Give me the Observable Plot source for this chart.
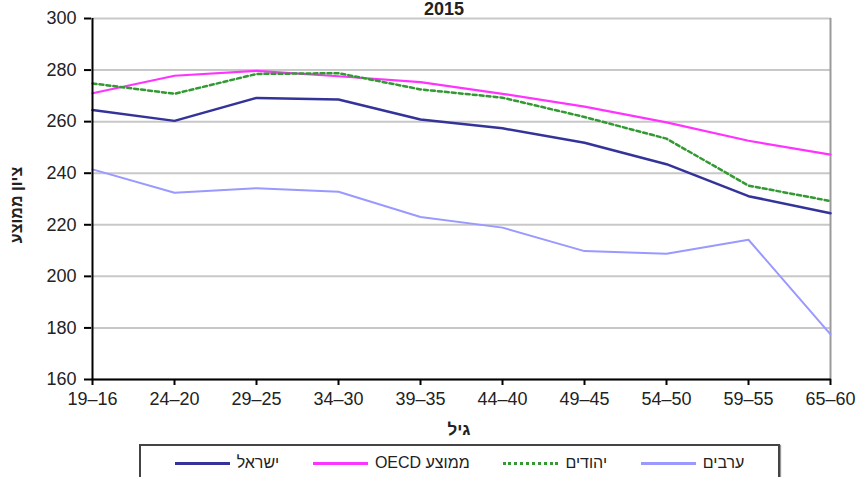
<!DOCTYPE html>
<html>
<head>
<meta charset="utf-8">
<script src="https://cdn.jsdelivr.net/npm/d3@7"></script>
<script src="https://cdn.jsdelivr.net/npm/@observablehq/plot@0.6"></script>
<style>
  html, body { margin: 0; padding: 0; background: #fff; }
  #wrap { position: relative; width: 867px; height: 477px; overflow: hidden; font-family: "Liberation Sans", Arial, sans-serif; color: #222; }
  #chart { position: absolute; left: 0; top: 0; }
  .title { position: absolute; top: 0px; left: 444px; transform: translateX(-50%); font-weight: bold; font-size: 18px; line-height: 18px; }
  .ylab { position: absolute; left: 17px; top: 205px; transform: translate(-50%, -50%) rotate(-90deg); font-weight: bold; font-size: 16px; white-space: nowrap; direction: rtl; }
  .xlab { position: absolute; left: 459px; top: 430px; transform: translate(-50%, -50%); font-weight: bold; font-size: 17px; direction: rtl; }
  .legend { position: absolute; left: 139px; top: 444px; width: 641px; height: 50px; border: 2px solid #444; box-shadow: 1px 1px 1px #999; display: flex; justify-content: space-evenly; align-items: flex-start; padding-top: 8px; box-sizing: border-box; }
  .item { display: flex; align-items: center; font-size: 16px; }
  .swatch { width: 55px; height: 0; margin-right: 7px; }
  .item span { direction: rtl; white-space: nowrap; }
</style>
</head>
<body>
<div id="wrap">
  <div id="chart"></div>
  <div class="title">2015</div>
  <div class="ylab">ציון ממוצע</div>
  <div class="xlab">גיל</div>
  <div class="legend" id="legend"></div>
</div>
<script>
// Data
const ages = ["19–16", "24–20", "29–25", "34–30", "39–35", "44–40", "49–45", "54–50", "59–55", "65–60"];
const israel = [264.5, 260.3, 269.2, 268.6, 260.8, 257.4, 251.8, 243.5, 231.1, 224.5];
const oecd   = [271.0, 277.8, 279.7, 277.6, 275.3, 270.8, 265.8, 259.7, 252.6, 247.2];
const jews   = [274.8, 270.8, 278.5, 278.8, 272.5, 269.3, 261.8, 253.4, 235.2, 229.2];
const arabs  = [241.5, 232.4, 234.2, 232.8, 223.0, 218.9, 209.8, 208.8, 214.2, 177.5];
const yTicks = [160, 180, 200, 220, 240, 260, 280, 300];
const seriesNames = ["ישראל", "ממוצע OECD", "יהודים", "ערבים"];

const colors = {"ישראל": "#333399", "ממוצע OECD": "#ff33ff", "יהודים": "#339933", "ערבים": "#9999ff"};
const rows = (vals) => ages.map((a, i) => ({age: a, v: vals[i]}));

const chart = Plot.plot({
  width: 867,
  height: 445,
  marginLeft: 91,
  marginRight: 36,
  marginTop: 18,
  marginBottom: 66,
  x: {type: "point", domain: ages, padding: 0},
  y: {domain: [160, 300]},
  style: {fontFamily: "'Liberation Sans', Arial, sans-serif", fontSize: "18px", color: "#222", background: "transparent"},
  marks: [
    Plot.gridY(yTicks, {stroke: "#c8c8c8", strokeWidth: 2, strokeOpacity: 1}),
    Plot.ruleX([ages[ages.length - 1]], {stroke: "#9a9a9a", strokeWidth: 2}),
    Plot.line(rows(arabs), {x: "age", y: "v", stroke: colors["ערבים"], strokeWidth: 2}),
    Plot.line(rows(oecd), {x: "age", y: "v", stroke: colors["ממוצע OECD"], strokeWidth: 2.2}),
    Plot.line(rows(israel), {x: "age", y: "v", stroke: colors["ישראל"], strokeWidth: 2.5}),
    Plot.line(rows(jews), {x: "age", y: "v", stroke: colors["יהודים"], strokeWidth: 2.5, strokeDasharray: "4,3"}),
    Plot.axisY(yTicks, {tickSize: 7, tickPadding: 8, label: null, stroke: "#000", strokeWidth: 2, fill: "#222"}),
    Plot.axisX({tickSize: 6, tickPadding: 7, label: null, stroke: "#000", strokeWidth: 2, fill: "#222"}),
    Plot.ruleX([ages[0]], {stroke: "#000", strokeWidth: 2}),
    Plot.ruleY([160], {stroke: "#000", strokeWidth: 2})
  ]
});
document.getElementById("chart").appendChild(chart);

// Legend
const legend = document.getElementById("legend");
seriesNames.forEach(name => {
  const item = document.createElement("div");
  item.className = "item";
  const sw = document.createElement("div");
  sw.className = "swatch";
  if (name === "יהודים") sw.style.borderTop = "3px dotted " + colors[name];
  else sw.style.borderTop = "3px solid " + colors[name];
  const t = document.createElement("span");
  t.textContent = name;
  item.appendChild(sw);
  item.appendChild(t);
  legend.appendChild(item);
});
</script>
</body>
</html>
